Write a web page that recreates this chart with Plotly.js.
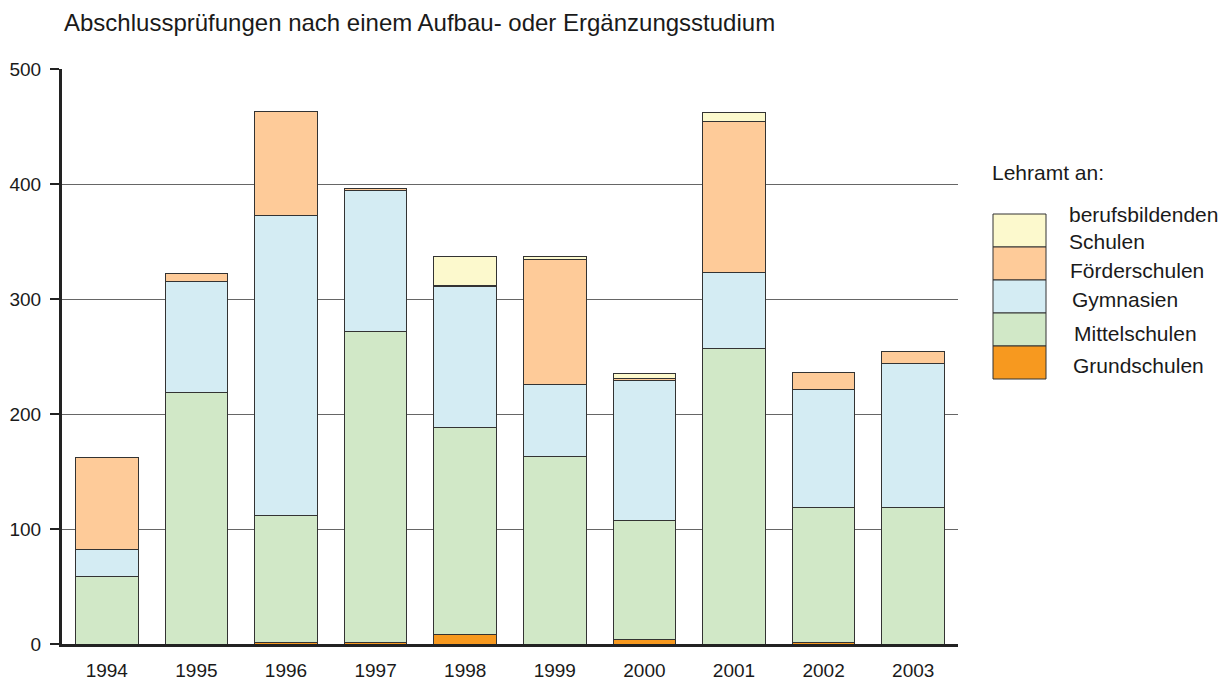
<!DOCTYPE html>
<html>
<head>
<meta charset="utf-8">
<script src="https://cdn.plot.ly/plotly-3.0.1.min.js"></script>
<style>html,body{margin:0;padding:0;background:#fff;}#chart{width:1230px;height:686px;}</style>
</head>
<body>
<div id="chart"></div>
<script>
const years = ["1994","1995","1996","1997","1998","1999","2000","2001","2002","2003"];
const grundschulen = [0, 0, 1, 1, 8, 0, 4, 0, 1, 0];
const mittelschulen = [59, 219, 111, 271, 180, 163, 103, 257, 118, 119];
const gymnasien = [23, 96, 261, 122, 123, 63, 122, 66, 102, 125];
const foerderschulen = [80, 7, 90, 2, 1, 108, 2, 131, 15, 10];
const berufsbildenden = [0, 0, 0, 0, 25, 3, 4, 8, 0, 0];
const yTicks = [0, 100, 200, 300, 400, 500];
const chartTitle = "Abschlussprüfungen nach einem Aufbau- oder Ergänzungsstudium";
const legendTitle = "Lehramt an:";

const seriesList = [
  {name: "Grundschulen", values: grundschulen, color: "#F7991F", label: ["Grundschulen"]},
  {name: "Mittelschulen", values: mittelschulen, color: "#D1E8C7", label: ["Mittelschulen"]},
  {name: "Gymnasien", values: gymnasien, color: "#D4ECF3", label: ["Gymnasien"]},
  {name: "Förderschulen", values: foerderschulen, color: "#FECB99", label: ["Förderschulen"]},
  {name: "berufsbildenden Schulen", values: berufsbildenden, color: "#FCF9CD", label: ["berufsbildenden", "Schulen"]}
];

const font = "Liberation Sans, Arial, sans-serif";
const txt = "#1a1a1a";

const traces = seriesList.map(s => ({
  type: "bar",
  name: s.name,
  x: years,
  y: s.values,
  marker: {color: s.color, line: {color: "#333333", width: 1}},
  hoverinfo: "x+y+name",
  showlegend: false
}));

const shapes = [];
const annotations = [];
const W = 1230, H = 686;
const L = 62, R = 958, T = 69, B = 644;
const pw = R - L, ph = B - T;
function px2x(p){ return (p - L) / pw; }
function px2y(p){ return (B - p) / ph; }

const swX0 = 993, swX1 = 1046, swTop = 214, swH = 33;
const labelY = {
  "berufsbildenden Schulen": [215, 242],
  "Förderschulen": [270],
  "Gymnasien": [299],
  "Mittelschulen": [333],
  "Grundschulen": [365]
};
const labelX = {"berufsbildenden Schulen": 1067, "Förderschulen": 1068, "Gymnasien": 1070, "Mittelschulen": 1072, "Grundschulen": 1071};
const rev = seriesList.slice().reverse();
rev.forEach((s, i) => {
  const y0 = swTop + i * swH, y1 = y0 + swH;
  shapes.push({type: "rect", xref: "paper", yref: "paper",
    x0: px2x(swX0), x1: px2x(swX1), y0: px2y(y1), y1: px2y(y0),
    fillcolor: s.color, line: {color: "#333333", width: 1}});
  s.label.forEach((t, j) => {
    annotations.push({xref: "paper", yref: "paper", x: px2x(labelX[s.name]), y: px2y(labelY[s.name][j]),
      xanchor: "left", yanchor: "middle", showarrow: false, text: t,
      font: {family: font, size: 21, color: txt}});
  });
});
annotations.push({xref: "paper", yref: "paper", x: px2x(990), y: px2y(172), xanchor: "left", yanchor: "middle",
  showarrow: false, text: legendTitle, font: {family: font, size: 21, color: txt}});
annotations.push({xref: "paper", yref: "paper", x: px2x(62), y: px2y(22), xanchor: "left", yanchor: "middle",
  showarrow: false, text: chartTitle, font: {family: font, size: 24, color: txt}});

const layout = {
  width: W, height: H,
  margin: {l: L, r: W - R, t: T, b: H - B, pad: 0},
  paper_bgcolor: "#ffffff", plot_bgcolor: "#ffffff",
  barmode: "stack",
  bargap: 0.3,
  showlegend: false,
  font: {family: font, size: 19, color: txt},
  xaxis: {
    type: "category",
    showgrid: false,
    showline: true, linecolor: "#222222", linewidth: 3,
    ticks: "", tickfont: {family: font, size: 19, color: txt},
    ticklabelstandoff: 7
  },
  yaxis: {
    range: [0, 500],
    tickvals: yTicks,
    ticktext: yTicks.map(String),
    showgrid: true, gridcolor: "#666666", gridwidth: 1,
    zeroline: false,
    showline: true, linecolor: "#222222", linewidth: 3,
    ticks: "outside", ticklen: 9, tickwidth: 2, tickcolor: "#222222",
    tickfont: {family: font, size: 19, color: txt},
    ticklabelstandoff: 5,
    fixedrange: true
  },
  shapes: shapes,
  annotations: annotations
};

Plotly.newPlot("chart", traces, layout, {displayModeBar: false, staticPlot: true});
</script>
</body>
</html>
